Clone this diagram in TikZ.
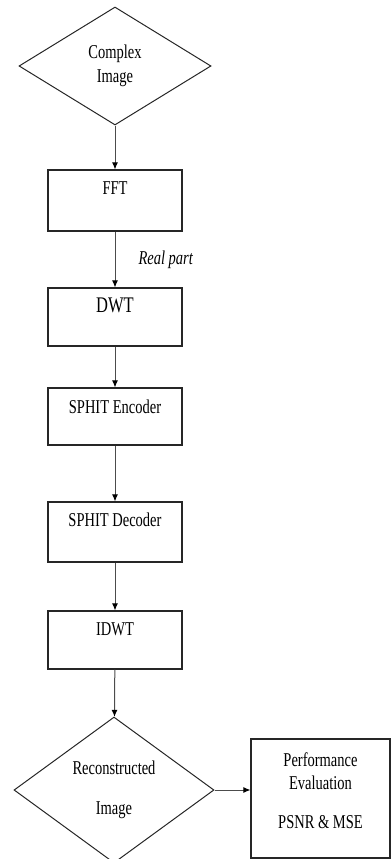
\documentclass[tikz,border=0pt]{standalone}
\usepackage{fontspec}
\setmainfont{Liberation Serif}
\usepackage{tikz}
\usetikzlibrary{shapes.geometric}
\usetikzlibrary{arrows.meta}

% text in this chart is set a little taller than wide
\newcommand{\stretchtxt}[1]{\scalebox{1}[1.35]{#1}}

\begin{document}
\begin{tikzpicture}[
            x = 1pt,
            y = -1pt,
            stepbox/.style = {
                draw = black!85,
                rectangle,
                line width = 1.1pt,
                minimum width = 134pt,
                minimum height = #1,
                inner sep = 0pt
            },
            stepbox/.default = 58pt,
            io/.style = {
                draw = black!85,
                diamond,
                line width = 1pt,
                align = center,
                inner sep = 0pt,
                font = \fontsize{14.5}{24}\selectfont
            },
            boxtext/.style = {
                anchor = north,
                yshift = #1,
                inner sep = 0pt,
                align = center,
                font = \fontsize{14.5}{23}\selectfont
            },
            boxtext/.default = -12pt,
            flow/.style = {
                draw = black!70,
                line width = 1pt,
                -{Latex[length=7pt, width=6pt, black]}
            }
            ]
            \useasboundingbox (0,0) rectangle (391,859);

            % input
            \node[io, minimum width = 192pt, minimum height = 118pt] (input) at (115,66)
                {\stretchtxt{Complex}\\\stretchtxt{Image}};

            % processing chain
            \node[stepbox=61pt, label={[boxtext]north:\stretchtxt{FFT}}] (fft) at (115,200.5) {};
            \node[stepbox, label={[boxtext=-10pt, font=\fontsize{16.5}{20}\selectfont]north:\stretchtxt{DWT}}] (dwt) at (115,317) {};
            \node[stepbox=57pt, label={[boxtext]north:\stretchtxt{SPHIT Encoder}}] (enc) at (115,416.5) {};
            \node[stepbox=60pt, label={[boxtext=-11pt]north:\stretchtxt{SPHIT Decoder}}] (dec) at (115,532) {};
            \node[stepbox, label={[boxtext]north:\stretchtxt{IDWT}}] (idwt) at (115,640) {};

            % output and evaluation
            \node[io, minimum width = 200pt, minimum height = 146pt] (recon) at (114,790)
                {\stretchtxt{Reconstructed}\\[16pt]\stretchtxt{Image}};
            \node[stepbox=119pt, minimum width = 139pt,
                  label={[boxtext=-14pt]north:\stretchtxt{Performance}\\\stretchtxt{Evaluation}\\[16pt]\stretchtxt{PSNR \& MSE}}]
                  (perf) at (320.5,798.5) {};

            \draw[flow] (input) -- (fft);
            \draw[flow] (fft) -- node[midway, anchor=west, xshift=23pt, inner sep=0pt,
                font=\fontsize{14.5}{18}\selectfont\itshape] (realpart) {\stretchtxt{Real part}} (dwt);
            \draw[flow] (dwt) -- (enc);
            \draw[flow] (enc) -- (dec);
            \draw[flow] (dec) -- (idwt);
            \draw[flow] (idwt) -- (recon);
            \draw[flow] (recon.east) -- (recon.east -| perf.west);
        \end{tikzpicture}
\end{document}
